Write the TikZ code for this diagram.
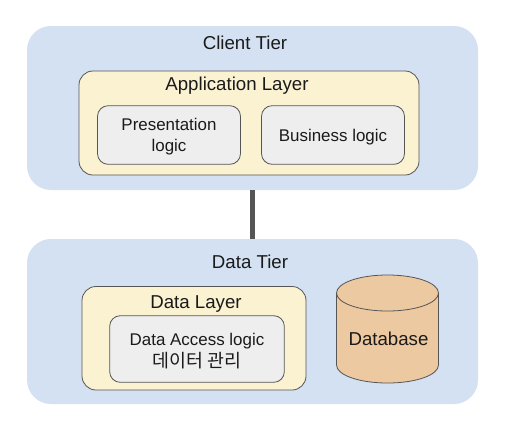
\documentclass[tikz,border=0pt]{standalone}
\usepackage{fontspec}
\setmainfont{Liberation Sans}
\newfontfamily\cjk{Noto Sans CJK KR}
\definecolor{tierblue}{HTML}{D4E1F2}
\definecolor{layeryellow}{HTML}{FBF2D1}
\definecolor{logicgray}{HTML}{EEEEEE}
\definecolor{edgegray}{HTML}{555555}
\definecolor{textdark}{HTML}{1A1A1A}
\definecolor{dbfill}{HTML}{ECC9A0}
\tikzset{x=0.75pt,y=-0.75pt,
 tier/.style={draw=none,fill=tierblue,rounded corners=18pt},
 layer/.style={draw=edgegray,fill=layeryellow,line width=0.6pt,rounded corners=10.5pt},
 logic/.style={draw=edgegray,fill=logicgray,line width=0.6pt,rounded corners=8pt,inner sep=0},
 logictext/.style={inner sep=0,align=center,text=textdark,font=\fontsize{12.7}{15.7}\selectfont},
 lbl/.style={font=\fontsize{14}{17}\selectfont,text=textdark,inner sep=0},
 dbedge/.style={draw=edgegray,line width=0.6pt}}
\begin{document}
\begin{tikzpicture}
\useasboundingbox (0,0) rectangle (511,437);
\path[fill=white] (0,0) rectangle (511,437);
\path[tier] (27,26) rectangle (478,190);
\path[tier] (27,239) rectangle (478,404);
\node[lbl] (clientT) at (245,43) {Client Tier};
\node[lbl] (dataT) at (250,262) {Data Tier};
\path[layer] (79,71) rectangle (419,175);
\node[lbl] (appL) at (237,85.5) {Application Layer};
\node[logic,minimum width=107.25pt,minimum height=44pt] (pres) at (169,135) {};
\node[logictext] (prestext) at ([yshift=-1.4pt]pres.center) {Presentation\\logic};
\node[logic,minimum width=107.25pt,minimum height=44pt] (biz) at (333,135) {};
\node[logictext] (biztext) at ([yshift=-1.4pt]biz.center) {Business logic};
\path[layer] (82,286.5) rectangle (306,390);
\node[lbl] (dataL) at (196,304.5) {Data Layer};
\node[logic,minimum width=131pt,minimum height=50pt] (dal) at (197,349) {};
\node[logictext] (daltext) at ([yshift=-1.8pt]dal.center) {Data Access logic\\[0.6pt]{\cjk\fontsize{13.8}{15.7}\selectfont 데이터 관리}};
\coordinate (c1) at (252.5,190);
\coordinate (c2) at (252.5,239);
\draw[line width=3.75pt,color=edgegray] (c1) -- (c2);
\path[dbedge,fill=dbfill] (336.5,293) -- (336.5,365) .. controls (336.5,375) and (359,383) .. (387.5,383) .. controls (416,383) and (438.5,375) .. (438.5,365) -- (438.5,293) .. controls (438.5,283) and (416,275) .. (387.5,275) .. controls (359,275) and (336.5,283) .. (336.5,293) -- cycle;
\path[dbedge] (336.5,293) .. controls (336.5,303) and (359,311) .. (387.5,311) .. controls (416,311) and (438.5,303) .. (438.5,293);
\node[lbl] (db) at (388.5,339) {Database};
\end{tikzpicture}
\end{document}
